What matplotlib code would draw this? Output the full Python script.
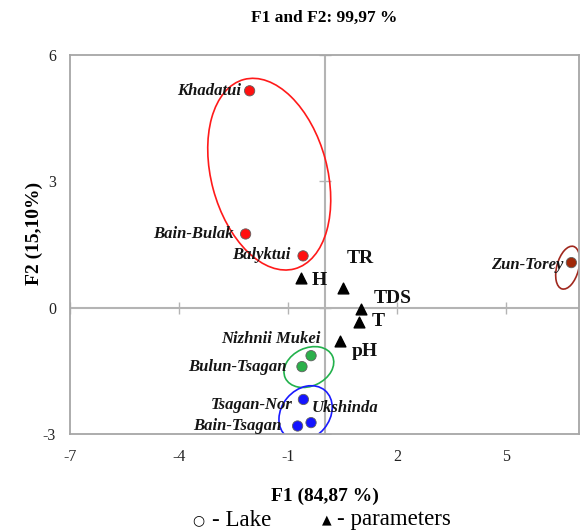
import numpy as np
import matplotlib
matplotlib.use('Agg')
import matplotlib.pyplot as plt
from matplotlib.patches import Ellipse
from matplotlib.transforms import ScaledTranslation

plt.rcParams['font.family'] = ['Liberation Serif', 'DejaVu Sans']
plt.rcParams['axes.unicode_minus'] = False

# lakes (F1, F2 scores)
lakes = ['Khadatui', 'Bain-Bulak', 'Balyktui', 'Zun-Torey', 'Nizhnii Mukei',
         'Bulun-Tsagan', 'Tsagan-Nor', 'Ukshinda', 'Bain-Tsagan']
lake_f1 = [-2.06, -2.17, -0.59, 6.79, -0.37, -0.62, -0.58, -0.37, -0.74]
lake_f2 = [5.15, 1.75, 1.23, 1.07, -1.14, -1.40, -2.18, -2.73, -2.81]
lake_colors = ['#ff1010', '#ff1010', '#ff1010', '#a02808', '#2bb04a',
               '#2bb04a', '#1414ff', '#1414ff', '#1414ff']
# label offsets in pixels (dx, dy), alignment
lake_lab = [(-8, 0, 'right'), (-12, 0, 'right'), (-13, 1, 'right'), (-8, -2, 'right'),
            (9, 17, 'right'), (-15, 0, 'right'), (-11, -6, 'right'), (1, 15, 'left'),
            (-16, 0, 'right')]

# parameters
params = ['H', 'TR', 'TDS', 'T', 'pH']
par_f1 = [-0.65, 0.50, 1.00, 0.95, 0.44]
par_f2 = [0.70, 0.46, -0.03, -0.33, -0.79]
par_lab = [(11, -2), (4, 30), (13, 10), (13, 0), (11, -11)]

# groups: center (F1, F2), width px, height px, angle, colour
groups = [((-1.52, 3.17), 116, 196, 15, '#ff1a1a'),
          ((-0.43, -1.41), 52, 38, 25, '#22b14c'),
          ((-0.52, -2.51), 60, 48, 50, '#1a1aff'),
          ((6.69, 0.95), 22, 44, -15, '#a0281e')]

xticks = [-7, -4, -1, 2, 5]
yticks = [-3, 0, 3, 6]

fig = plt.figure(figsize=(5.81, 5.31), dpi=100)
ax = fig.add_axes([70 / 581, 1 - 434 / 531, 509 / 581, 379 / 531])
ax.set_xlim(-7, 7)
ax.set_ylim(-3, 6)

grey = '#a6a6a6'
for s in ax.spines.values():
    s.set_color(grey)
    s.set_linewidth(1.3)
ax.axhline(0, color='#b4b4b4', lw=1.5, zorder=1)
ax.axvline(0, color='#b4b4b4', lw=1.5, zorder=1)
ax.plot(xticks, [0] * len(xticks), ls='none', marker='|', ms=9, mew=1, color='#b4b4b4', zorder=1)
ax.plot([0] * len(yticks), yticks, ls='none', marker='_', ms=9, mew=1, color='#b4b4b4', zorder=1)

ax.set_xticks(xticks)
ax.set_yticks(yticks)
ax.tick_params(length=0, labelsize=11.5, labelcolor='#222222')
ax.tick_params(axis='x', pad=11)
ax.tick_params(axis='y', pad=10)

for (c, w, h, ang, col) in groups:
    tr = fig.dpi_scale_trans + ScaledTranslation(c[0], c[1], ax.transData)
    ax.add_patch(Ellipse((0, 0), w / 100, h / 100, angle=ang, transform=tr,
                         fill=False, edgecolor=col, lw=1.2, zorder=2))

ax.scatter(lake_f1, lake_f2, s=55, c=lake_colors, edgecolors='#606060', linewidths=0.6, zorder=4)
ax.scatter(par_f1, par_f2, s=60, marker='^', c='black', zorder=4)

for name, x, y, (dx, dy, ha) in zip(lakes, lake_f1, lake_f2, lake_lab):
    ax.annotate(name, (x, y), xytext=(dx * 0.72, dy * 0.72), textcoords='offset points',
                ha=ha, va='center', fontsize=12, fontweight='bold', style='italic',
                color='#151515', zorder=5)

for name, x, y, (dx, dy) in zip(params, par_f1, par_f2, par_lab):
    ax.annotate(name, (x, y), xytext=(dx * 0.72, dy * 0.72), textcoords='offset points',
                ha='left', va='center', fontsize=14, fontweight='bold', color='#111111', zorder=5)

fig.text(324 / 581, 1 - 18 / 531, 'F1 and F2: 99,97 %', fontsize=12.5, fontweight='bold',
         ha='center', va='center')
ax.set_xlabel('F1 (84,87 %)', fontsize=14, fontweight='bold', labelpad=16)
ax.set_ylabel('F2 (15,10%)', fontsize=14, fontweight='bold')
ax.yaxis.set_label_coords((43 - 70) / 509, (434 - 233) / 379)

fig.text(198 / 581, 1 - 520 / 531, '\u25cb', fontsize=10, ha='center', va='center',
         family=['DejaVu Sans'])
fig.text(212 / 581, 1 - 520 / 531, '- Lake', fontsize=16.5, ha='left', va='center')
fig.text(327 / 581, 1 - 520 / 531, '\u25b2', fontsize=9, ha='center', va='center',
         family=['DejaVu Sans'])
fig.text(337 / 581, 1 - 520 / 531, '- parameters', fontsize=16.5, ha='left', va='center')

fig.savefig('out.png', dpi=100)
